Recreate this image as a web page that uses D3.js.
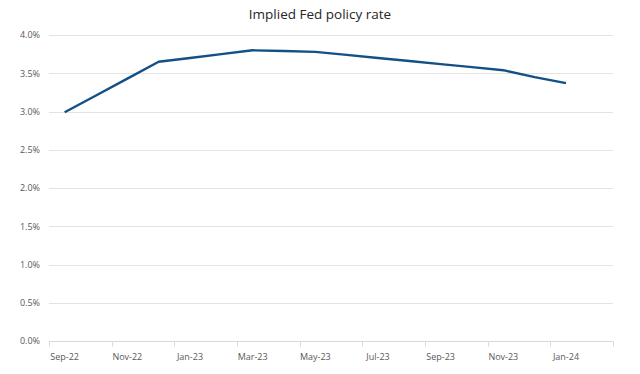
<!DOCTYPE html>
<html>
<head>
<meta charset="utf-8">
<script src="https://cdn.jsdelivr.net/npm/d3@7"></script>
<style>
  body { margin: 0; background: #fff; }
  svg { display: block; font-family: "Open Sans", "Noto Sans", sans-serif; }
</style>
</head>
<body>
<svg id="chart" width="640" height="374"></svg>
<script>
// Chart data
const months = ["Sep-22", "Oct-22", "Nov-22", "Dec-22", "Jan-23", "Feb-23", "Mar-23", "Apr-23", "May-23",
  "Jun-23", "Jul-23", "Aug-23", "Sep-23", "Oct-23", "Nov-23", "Dec-23", "Jan-24"];
const rates = [2.99, 3.21, 3.43, 3.65, 3.70, 3.75, 3.80, 3.79, 3.78,
  3.74, 3.70, 3.66, 3.62, 3.58, 3.54, 3.45, 3.37];
const tickLabels = ["Sep-22", "Nov-22", "Jan-23", "Mar-23", "May-23", "Jul-23", "Sep-23", "Nov-23", "Jan-24"];
const yTicks = [0, 0.5, 1.0, 1.5, 2.0, 2.5, 3.0, 3.5, 4.0];

const svg = d3.select("#chart");
const margin = { left: 49, right: 27, top: 35, bottom: 33 };
const width = 640, height = 374;

// One slot per month, axis runs to Feb-24 so ticks land every 2 months
const slots = months.concat(["Feb-24"]);
const x = d3.scaleBand()
  .domain(slots)
  .range([margin.left, width - margin.right]);

const y = d3.scaleLinear()
  .domain([0, 4])
  .range([height - margin.bottom, margin.top]);

// Title
svg.append("text")
  .attr("x", 320)
  .attr("y", 19)
  .attr("text-anchor", "middle")
  .attr("font-size", 13.5)
  .attr("fill", "#262626")
  .text("Implied Fed policy rate");

// Gridlines
svg.append("g")
  .selectAll("line")
  .data(yTicks)
  .enter()
  .append("line")
  .attr("x1", margin.left)
  .attr("x2", width - margin.right)
  .attr("y1", d => Math.round(y(d)) + 0.5)
  .attr("y2", d => Math.round(y(d)) + 0.5)
  .attr("stroke", "#e3e3e3")
  .attr("stroke-width", 1);

// Y axis labels
const yAxis = d3.axisLeft(y)
  .tickValues(yTicks)
  .tickSize(0)
  .tickPadding(9)
  .tickFormat(d => d3.format(".1f")(d) + "%");

svg.append("g")
  .attr("transform", `translate(${margin.left},0)`)
  .call(yAxis)
  .call(g => g.select(".domain").remove())
  .call(g => g.selectAll("text")
    .attr("font-size", 9)
    .attr("font-family", "Open Sans, Noto Sans, sans-serif")
    .attr("fill", "#595959"));

// X axis: tick marks at every other month boundary, labels under the month
const xAxisG = svg.append("g")
  .attr("transform", `translate(0,${Math.round(y(0)) + 0.5})`);

xAxisG.append("line")
  .attr("x1", margin.left)
  .attr("x2", width - margin.right)
  .attr("stroke", "#d9d9d9");

const boundaries = slots.filter((d, i) => i % 2 === 0).map(d => x(d)).concat([x.range()[1]]);
xAxisG.selectAll("line.tick")
  .data(boundaries)
  .enter()
  .append("line")
  .attr("class", "tick")
  .attr("x1", d => Math.round(d) + 0.5)
  .attr("x2", d => Math.round(d) + 0.5)
  .attr("y1", 0)
  .attr("y2", 5)
  .attr("stroke", "#d9d9d9");

xAxisG.selectAll("text")
  .data(tickLabels)
  .enter()
  .append("text")
  .attr("x", d => x(d) + x.bandwidth() / 2)
  .attr("y", 18)
  .attr("text-anchor", "middle")
  .attr("font-size", 9)
  .attr("fill", "#595959")
  .text(d => d);

// Line
const line = d3.line()
  .x((d, i) => x(months[i]) + x.bandwidth() / 2)
  .y(d => y(d));

svg.append("path")
  .datum(rates)
  .attr("d", line)
  .attr("fill", "none")
  .attr("stroke", "#125086")
  .attr("stroke-width", 2.4)
  .attr("stroke-linejoin", "round");
</script>
</body>
</html>
